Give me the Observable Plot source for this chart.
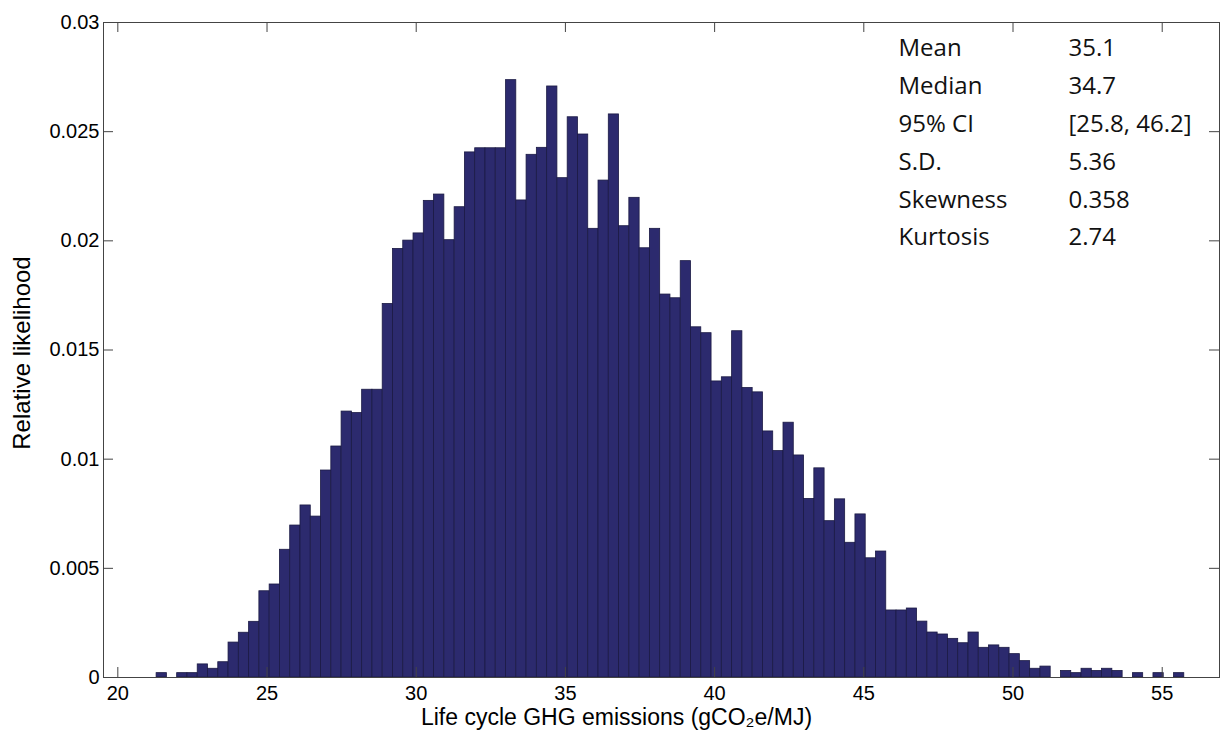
<!DOCTYPE html>
<html><head><meta charset="utf-8">
<script src="https://cdn.jsdelivr.net/npm/d3@7"></script>
<script src="https://cdn.jsdelivr.net/npm/@observablehq/plot@0.6"></script>
<style>body{margin:0;background:#fff;} #chart svg{display:block;}</style>
</head><body><div id="chart"></div>
<script>
// Histogram bins: lower edge of the first bin and common bin width
const binStart = 21.30;
const binWidth = 0.3444;
// Relative likelihood of each of the 100 bins
const likelihood = [
  0.0002, 0, 0.0002, 0.0002, 0.0006, 0.0004, 0.0007, 0.0016, 0.00205, 0.00255,
  0.00395, 0.00426, 0.00585, 0.00696, 0.00788, 0.00737, 0.00948, 0.01058, 0.01218, 0.01211,
  0.01318, 0.01318, 0.01711, 0.01963, 0.02001, 0.02034, 0.02183, 0.02212, 0.02003, 0.02154,
  0.02405, 0.02424, 0.02424, 0.02424, 0.02736, 0.02185, 0.02394, 0.02426, 0.02707, 0.02287,
  0.02566, 0.02487, 0.02055, 0.02276, 0.02579, 0.02067, 0.02197, 0.01966, 0.02055, 0.01754,
  0.01737, 0.01907, 0.01604, 0.01577, 0.01356, 0.01375, 0.01586, 0.01326, 0.01306, 0.01127,
  0.01037, 0.01167, 0.01017, 0.00818, 0.00958, 0.00716, 0.00816, 0.00617, 0.00747, 0.00546,
  0.00577, 0.00307, 0.00307, 0.00316, 0.00256, 0.00206, 0.00197, 0.00177, 0.00157, 0.00206,
  0.00136, 0.00147, 0.00136, 0.00107, 0.00075, 0.0004, 0.0005, 0, 0.0003, 0.0002,
  0.0004, 0.0003, 0.0004, 0.0003, 0, 0.0002, 0, 0.0002, 0, 0.0002
];
const xTicks = [20, 25, 30, 35, 40, 45, 50, 55];
const yTicks = [0, 0.005, 0.01, 0.015, 0.02, 0.025, 0.03];
const xDomain = [19.52, 56.92];
const yDomain = [0, 0.03];
const xLabel = "Life cycle GHG emissions (gCO\u2082e/MJ)";
const yLabel = "Relative likelihood";
const statLabels = ["Mean", "Median", "95% CI", "S.D.", "Skewness", "Kurtosis"];
const statValues = ["35.1", "34.7", "[25.8, 46.2]", "5.36", "0.358", "2.74"];

const bins = likelihood.map((v, i) => ({
  x1: binStart + i * binWidth,
  x2: binStart + (i + 1) * binWidth,
  y: v
}));

const W = 1221, H = 745;
const mL = 103, mR = 2, mT = 22, mB = 68;
const plotW = W - mL - mR, plotH = H - mT - mB;
const tickLen = 10;
const axisColor = "#444";
const font = "'Liberation Sans', Arial, Helvetica, sans-serif";
const statFont = "'Open Sans', sans-serif";

const chart = Plot.plot({
  width: W, height: H,
  marginLeft: mL, marginRight: mR, marginTop: mT, marginBottom: mB,
  style: {fontFamily: font, fontSize: "20px", color: "#000", background: "#fff"},
  x: {domain: xDomain},
  y: {domain: yDomain},
  marks: [
    Plot.rectY(bins, {x1: "x1", x2: "x2", y: "y", fill: "#2c2a6e", stroke: "#1b1a44", strokeWidth: 0.8}),
    Plot.frame({stroke: axisColor, strokeWidth: 1}),
    Plot.ruleX(xTicks, {x: d => d, insetTop: plotH - tickLen, stroke: axisColor}),
    Plot.ruleX(xTicks, {x: d => d, insetBottom: plotH - tickLen, stroke: axisColor}),
    Plot.ruleY(yTicks, {y: d => d, insetRight: plotW - tickLen, stroke: axisColor}),
    Plot.ruleY(yTicks, {y: d => d, insetLeft: plotW - tickLen, stroke: axisColor}),
    Plot.axisX({ticks: xTicks, tickSize: 0, tickPadding: 8, fontSize: 20, label: null, tickFormat: d => `${d}`}),
    Plot.axisY({ticks: yTicks, tickSize: 0, tickPadding: 4, fontSize: 20, label: null, tickFormat: d => `${d}`}),
    Plot.text([xLabel], {frameAnchor: "bottom", dx: -45, dy: 47, fontSize: 23, fill: "#000"}),
    Plot.text([yLabel], {frameAnchor: "left", textAnchor: "middle", rotate: -90, dx: -81, dy: 3, fontSize: 24, fill: "#000"}),
    Plot.text([statLabels.join("\n")], {frameAnchor: "top-left", dx: 795, dy: 7, textAnchor: "start", lineAnchor: "top", lineHeight: 1.575, fontSize: 24, fontFamily: statFont, fill: "#111"}),
    Plot.text([statValues.join("\n")], {frameAnchor: "top-left", dx: 965, dy: 7, textAnchor: "start", lineAnchor: "top", lineHeight: 1.575, fontSize: 24, fontFamily: statFont, fill: "#111"})
  ]
});
document.getElementById("chart").appendChild(chart);
</script>
</body></html>
